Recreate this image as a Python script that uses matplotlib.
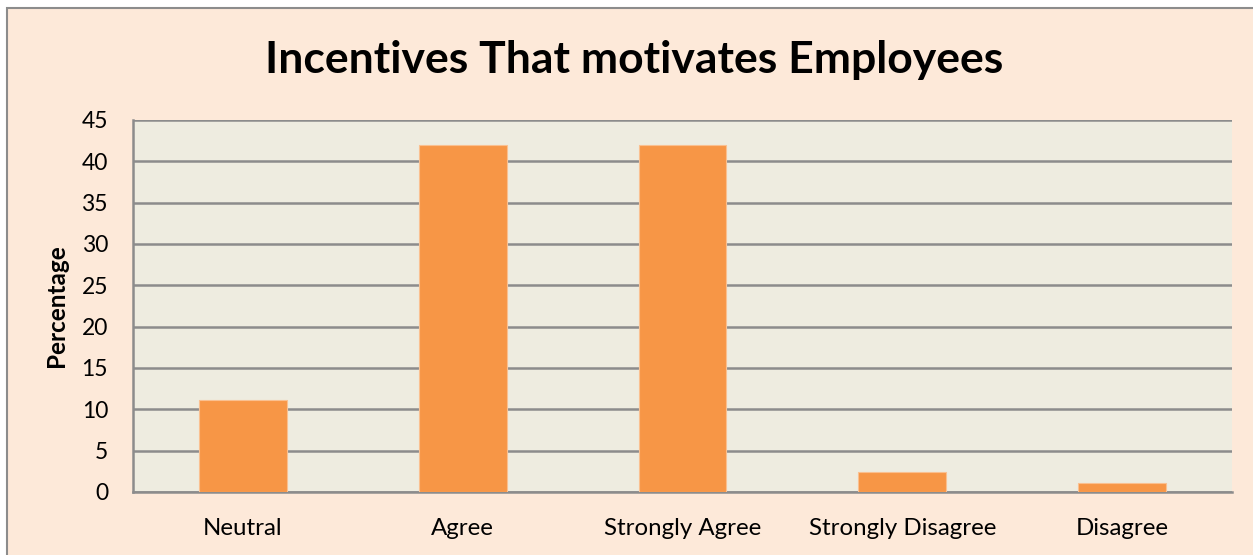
import matplotlib
matplotlib.use("Agg")
import matplotlib.pyplot as plt
from matplotlib.patches import Rectangle

categories = ["Neutral", "Agree", "Strongly Agree", "Strongly Disagree", "Disagree"]
values = [11.1, 42.0, 42.0, 2.4, 1.1]
yticks = [0, 5, 10, 15, 20, 25, 30, 35, 40, 45]
title = "Incentives That motivates Employees"
ylabel = "Percentage"

plt.rcParams['font.family'] = ['Lato', 'DejaVu Sans']

W, H = 1253, 555
fig = plt.figure(figsize=(W / 100, H / 100), dpi=100, facecolor="white")
fig.patches.append(Rectangle((7 / W, -0.1), 1.2, 1 - 8 / H + 0.1, transform=fig.transFigure,
                             facecolor="#FDE9D9", edgecolor="#8c8c8c", linewidth=1.5, zorder=-10))

ax = fig.add_axes([133 / W, 1 - 492 / H, (1232 - 133) / W, (492 - 120) / H])
ax.set_facecolor("#EEECE0")
x = list(range(len(categories)))
ax.bar(x, values, width=0.4, color="#F79646", edgecolor="#FAC090", linewidth=0.8, zorder=3)
ax.set_xlim(-0.5, len(categories) - 0.5)
ax.set_ylim(0, 45)
ax.set_yticks(yticks)
ax.set_xticks(x)
ax.set_xticklabels(categories)
ax.tick_params(axis='y', length=0, pad=18, labelsize=16.5)
ax.tick_params(axis='x', length=0, pad=19, labelsize=17.3)
ax.yaxis.grid(True, color="#8c8c8c", linewidth=1.8, zorder=1)
ax.set_axisbelow(True)
for s in ["top", "right"]:
    ax.spines[s].set_visible(False)
for s in ["left", "bottom"]:
    ax.spines[s].set_color("#8c8c8c")
    ax.spines[s].set_linewidth(1.8)
ax.set_ylabel(ylabel, fontsize=17.5, fontweight="bold")
ax.yaxis.set_label_coords(-65 / (1232 - 133), 0.5)
fig.text(634 / W, 1 - 60 / H, title, ha="center", va="center", fontsize=32, fontweight="bold")

fig.savefig("out.png", dpi=100, facecolor=fig.get_facecolor())
